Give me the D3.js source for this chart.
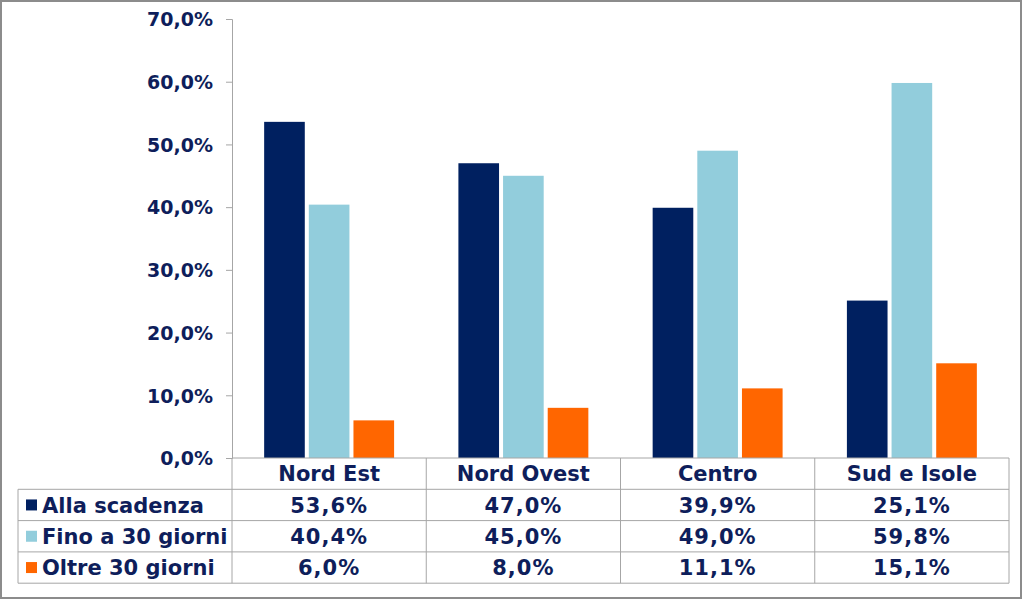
<!DOCTYPE html>
<html><head><meta charset="utf-8">
<script src="https://cdn.jsdelivr.net/npm/d3@7"></script>
<style>
html,body{margin:0;padding:0;background:#fff;}
svg{display:block;}
text{font-family:"DejaVu Sans",Verdana,sans-serif;font-weight:bold;fill:#0E1E5B;}
</style></head>
<body>
<svg id="c" width="1024" height="601"></svg>
<script>
const categories = ["Nord Est", "Nord Ovest", "Centro", "Sud e Isole"];
const seriesNames = ["Alla scadenza", "Fino a 30 giorni", "Oltre 30 giorni"];
const allaScadenza = [53.6, 47.0, 39.9, 25.1];
const fino30 = [40.4, 45.0, 49.0, 59.8];
const oltre30 = [6.0, 8.0, 11.1, 15.1];
const yTicks = [0, 10, 20, 30, 40, 50, 60, 70];
const colors = ["#002060", "#92CDDC", "#FF6600"];

const series = [allaScadenza, fino30, oltre30];
const fmt = v => v.toFixed(1).replace(".", ",") + "%";

const svg = d3.select("#c");
const plotLeft = 232, plotRight = 1009, plotTop = 19, plotBottom = 458;

// outer border
svg.append("rect").attr("x", 1).attr("y", 1).attr("width", 1020).attr("height", 597)
  .attr("fill", "none").attr("stroke", "#8C8C8C").attr("stroke-width", 2);

const x = d3.scaleBand().domain(categories).range([plotLeft, plotRight]).paddingInner(0).paddingOuter(0);
const xs = d3.scaleBand().domain(d3.range(series.length)).range([0, x.bandwidth()])
  .paddingInner(0.09).paddingOuter(0.72);
const y = d3.scaleLinear().domain([0, 70]).range([plotBottom, plotTop]);

// y axis
const yAxis = d3.axisLeft(y).tickValues(yTicks).tickSize(6).tickPadding(13).tickFormat(d => fmt(d));
const ga = svg.append("g").attr("transform", `translate(${plotLeft},0)`).call(yAxis);
ga.select(".domain").attr("stroke", "#A6A6A6");
ga.selectAll(".tick line").attr("stroke", "#A6A6A6");
ga.selectAll(".tick text").style("font-size", "19px").attr("fill", "#0E1E5B").attr("dy", "0.36em");

// bars
series.forEach((vals, si) => {
  svg.append("g").selectAll("rect").data(vals).join("rect")
    .attr("x", (d, i) => x(categories[i]) + xs(si))
    .attr("width", xs.bandwidth())
    .attr("y", d => y(d))
    .attr("height", d => y(0) - y(d))
    .attr("fill", colors[si]);
});

// table
const rowH = 31.3;
const tableLeft = 18;
const grid = "#A6A6A6";
const tg = svg.append("g");
tg.append("line").attr("x1", plotLeft).attr("x2", plotRight).attr("y1", plotBottom).attr("y2", plotBottom).attr("stroke", grid);
for (let r = 1; r <= 4; r++) {
  tg.append("line").attr("x1", tableLeft).attr("x2", plotRight)
    .attr("y1", plotBottom + r * rowH).attr("y2", plotBottom + r * rowH).attr("stroke", grid);
}
tg.append("line").attr("x1", tableLeft).attr("x2", tableLeft).attr("y1", plotBottom + rowH).attr("y2", plotBottom + 4 * rowH).attr("stroke", grid);
categories.forEach(c => {
  tg.append("line").attr("x1", x(c)).attr("x2", x(c)).attr("y1", plotBottom).attr("y2", plotBottom + 4 * rowH).attr("stroke", grid);
});
tg.append("line").attr("x1", plotRight).attr("x2", plotRight).attr("y1", plotBottom).attr("y2", plotBottom + 4 * rowH).attr("stroke", grid);

// header labels
tg.selectAll("text.cat").data(categories).join("text").attr("class", "cat")
  .attr("x", d => x(d) + x.bandwidth() / 2).attr("y", plotBottom + rowH / 2).attr("dy", "0.36em")
  .attr("text-anchor", "middle").style("font-size", "21px").text(d => d);

// rows
seriesNames.forEach((name, si) => {
  const cy = plotBottom + (si + 1.5) * rowH;
  tg.append("rect").attr("x", 26).attr("y", cy - 5.5).attr("width", 11).attr("height", 11).attr("fill", colors[si]);
  tg.append("text").attr("x", 42).attr("y", cy).attr("dy", "0.36em").style("font-size", "21px").text(name);
  tg.selectAll(null).data(series[si]).join("text")
    .attr("x", (d, i) => x(categories[i]) + x.bandwidth() / 2).attr("y", cy).attr("dy", "0.36em")
    .attr("text-anchor", "middle").style("font-size", "21px").style("letter-spacing", "1px").text(d => fmt(d));
});
</script>
</body></html>
